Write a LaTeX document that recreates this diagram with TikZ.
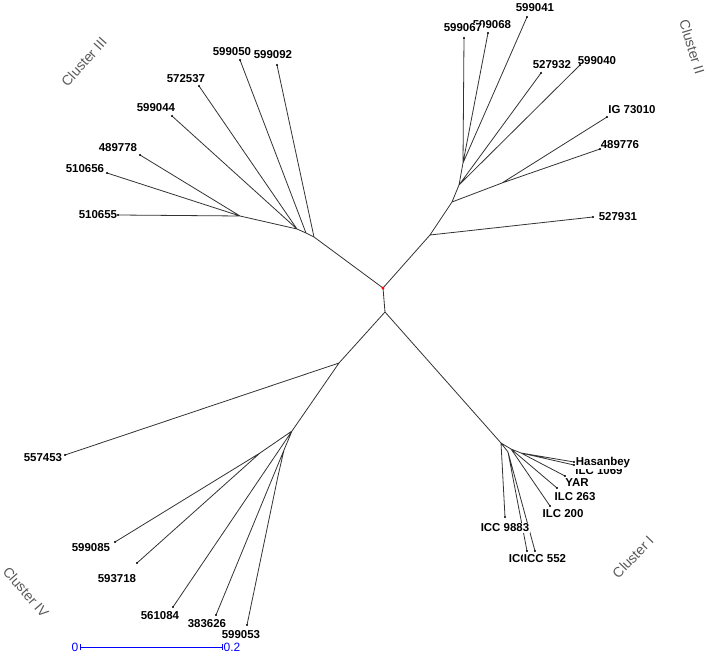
\documentclass[tikz,border=0pt]{standalone}
\usepackage{fontspec}
\setmainfont{Liberation Sans}
\begin{document}
\begin{tikzpicture}[x=0.75pt,y=-0.75pt,
  br/.style={draw=black!80,line width=0.6pt},
  lab/.style={font=\fontsize{8.6pt}{9pt}\selectfont\bfseries,inner sep=0.5pt,text=black},
  labw/.style={lab,fill=white},
  clu/.style={font=\fontsize{10.5pt}{12pt}\selectfont,text=black!65,inner sep=0pt},
  tip/.style={fill=black,circle,inner sep=0pt,minimum size=1.6pt}]
\useasboundingbox (0,0) rectangle (708,656);
% ---------- internal nodes ----------
\coordinate (root) at (383,288);
\coordinate (c2a) at (430,235);
\coordinate (c2b) at (452,202);
\coordinate (c2c) at (502,183);
\coordinate (c2d) at (459,185);
\coordinate (c2e) at (463,163);
\coordinate (c3a) at (314,237);
\coordinate (c3b) at (306,233);
\coordinate (c3c) at (297,229);
\coordinate (c3d) at (240,216);
\coordinate (c1a) at (385,312);
\coordinate (c4a) at (339,363);
\coordinate (c4b) at (292,431);
\coordinate (c4c) at (260,453);
\coordinate (c4d) at (284,450);
\coordinate (c4e) at (278,476);
\coordinate (c1b) at (501,443);
\coordinate (c1c) at (511,449);
\coordinate (c1d) at (521,453);
\coordinate (c1e) at (508,452);
% ---------- leaves ----------
\coordinate (t527931) at (593,217);
\coordinate (tIG) at (607,117);
\coordinate (t489776) at (600,149);
\coordinate (t599040) at (580,65);
\coordinate (t527932) at (541,73);
\coordinate (t599041) at (527,17);
\coordinate (t599068) at (488,33);
\coordinate (t599067) at (464,38);
\coordinate (t599092) at (277,65);
\coordinate (t599050) at (240,60);
\coordinate (t572537) at (199,86);
\coordinate (t599044) at (172,116);
\coordinate (t489778) at (140,155);
\coordinate (t510656) at (107,173);
\coordinate (t510655) at (118,215);
\coordinate (t557453) at (65,455);
\coordinate (t599085) at (115,542);
\coordinate (t593718) at (137,563);
\coordinate (t561084) at (173,607);
\coordinate (t383626) at (216,615);
\coordinate (t599053) at (247,625);
\coordinate (tHas) at (574,462);
\coordinate (t1069) at (574,465);
\coordinate (tYAR) at (565,476);
\coordinate (t263) at (557,488);
\coordinate (t200) at (550,506);
\coordinate (t9883) at (505,517);
\coordinate (tICx) at (527,551);
\coordinate (t552) at (535,551);
% ---------- branches ----------
\draw[br] (root) -- (c2a) (c2a) -- (t527931) (c2a) -- (c2b)
  (c2b) -- (c2c) (c2c) -- (tIG) (c2c) -- (t489776)
  (c2b) -- (c2d) (c2d) -- (t599040) (c2d) -- (t527932) (c2d) -- (c2e)
  (c2e) -- (t599041) (c2e) -- (t599068) (c2e) -- (t599067);
\draw[br] (root) -- (c3a) (c3a) -- (t599092) (c3a) -- (c3b)
  (c3b) -- (t599050) (c3b) -- (c3c) (c3c) -- (t572537) (c3c) -- (t599044)
  (c3c) -- (c3d) (c3d) -- (t489778) (c3d) -- (t510656) (c3d) -- (t510655);
\draw[br] (root) -- (c1a) (c1a) -- (c4a) (c4a) -- (t557453) (c4a) -- (c4b)
  (c4b) -- (c4c) (c4c) -- (t599085) (c4c) -- (t593718)
  (c4b) -- (t561084) (c4b) -- (c4d) (c4d) -- (t383626) (c4d) -- (c4e) (c4e) -- (t599053);
\draw[br] (c1a) -- (c1b) (c1b) -- (t9883) (c1b) -- (c1e) (c1e) -- (tICx) (c1e) -- (t552)
  (c1b) -- (c1c) (c1c) -- (t200) (c1c) -- (t263) (c1c) -- (c1d)
  (c1d) -- (tYAR) (c1d) -- (t1069) (c1d) -- (tHas);
\foreach \t in {t527931,tIG,t489776,t599040,t527932,t599041,t599068,t599067,
  t599092,t599050,t572537,t599044,t489778,t510656,t510655,t557453,t599085,
  t593718,t561084,t383626,t599053,tHas,t1069,tYAR,t263,t200,t9883,tICx,t552}
  \node[tip] at (\t) {};
\node[circle,fill=red,inner sep=0pt,minimum size=2.4pt] (rootdot) at (root) {};
% ---------- labels ----------
\node[lab] (l527931) at (618,217) {527931};
\node[lab] (lIG) at (632,110) {IG 73010};
\node[lab] (l489776) at (620,145) {489776};
\node[lab] (l599040) at (597,61) {599040};
\node[lab] (l527932) at (552,65) {527932};
\node[lab] (l599041) at (535,8) {599041};
\node[lab] (l599068) at (492,25) {599068};
\node[labw] (l599067) at (463,28) {599067};
\node[lab] (l599092) at (273,55) {599092};
\node[lab] (l599050) at (232,52) {599050};
\node[lab] (l572537) at (186,79) {572537};
\node[lab] (l599044) at (156,108) {599044};
\node[lab] (l489778) at (118,148) {489778};
\node[lab] (l510656) at (85,169) {510656};
\node[lab] (l510655) at (98,215) {510655};
\node[lab] (l557453) at (43,458) {557453};
\node[lab] (l599085) at (91,548) {599085};
\node[lab] (l593718) at (117,579) {593718};
\node[lab] (l561084) at (160,616) {561084};
\node[lab] (l383626) at (207,624) {383626};
\node[lab] (l599053) at (241,635) {599053};
\node[lab] (l1069) at (599,471) {ILC 1069};
\node[labw] (lHas) at (603,463) {Hasanbey};
\node[labw] (lYAR) at (577,483) {YAR};
\node[lab] (l263) at (575,497) {ILC 263};
\node[lab] (l200) at (563,514) {ILC 200};
\node[labw] (l9883) at (505,528) {ICC 9883};
\node[lab,anchor=west] (lICx) at (508,559) {ICC};
\node[labw] (l552) at (545,559) {ICC 552};
% ---------- cluster names ----------
\node[clu,rotate=-73] (cII) at (692,47) {Cluster II};
\node[clu,rotate=48] (cIII) at (84,62) {Cluster III};
\node[clu,rotate=46] (cI) at (633,557) {Cluster I};
\node[clu,rotate=-49] (cIV) at (26,592) {Cluster IV};
% ---------- scale bar ----------
\coordinate (s0) at (80,647);
\coordinate (s1) at (222,647);
\draw[blue,line width=0.6pt] (s0) -- (s1);
\draw[blue,line width=0.6pt] ([yshift=-2.5]s0) -- ([yshift=2.5]s0) ([yshift=-2.5]s1) -- ([yshift=2.5]s1);
\node[text=blue,font=\fontsize{9pt}{10pt}\selectfont,anchor=east,inner sep=1pt] (z0) at (s0) {0};
\node[text=blue,font=\fontsize{9pt}{10pt}\selectfont,anchor=west,inner sep=1pt] (z1) at (s1) {0.2};
\end{tikzpicture}
\end{document}
